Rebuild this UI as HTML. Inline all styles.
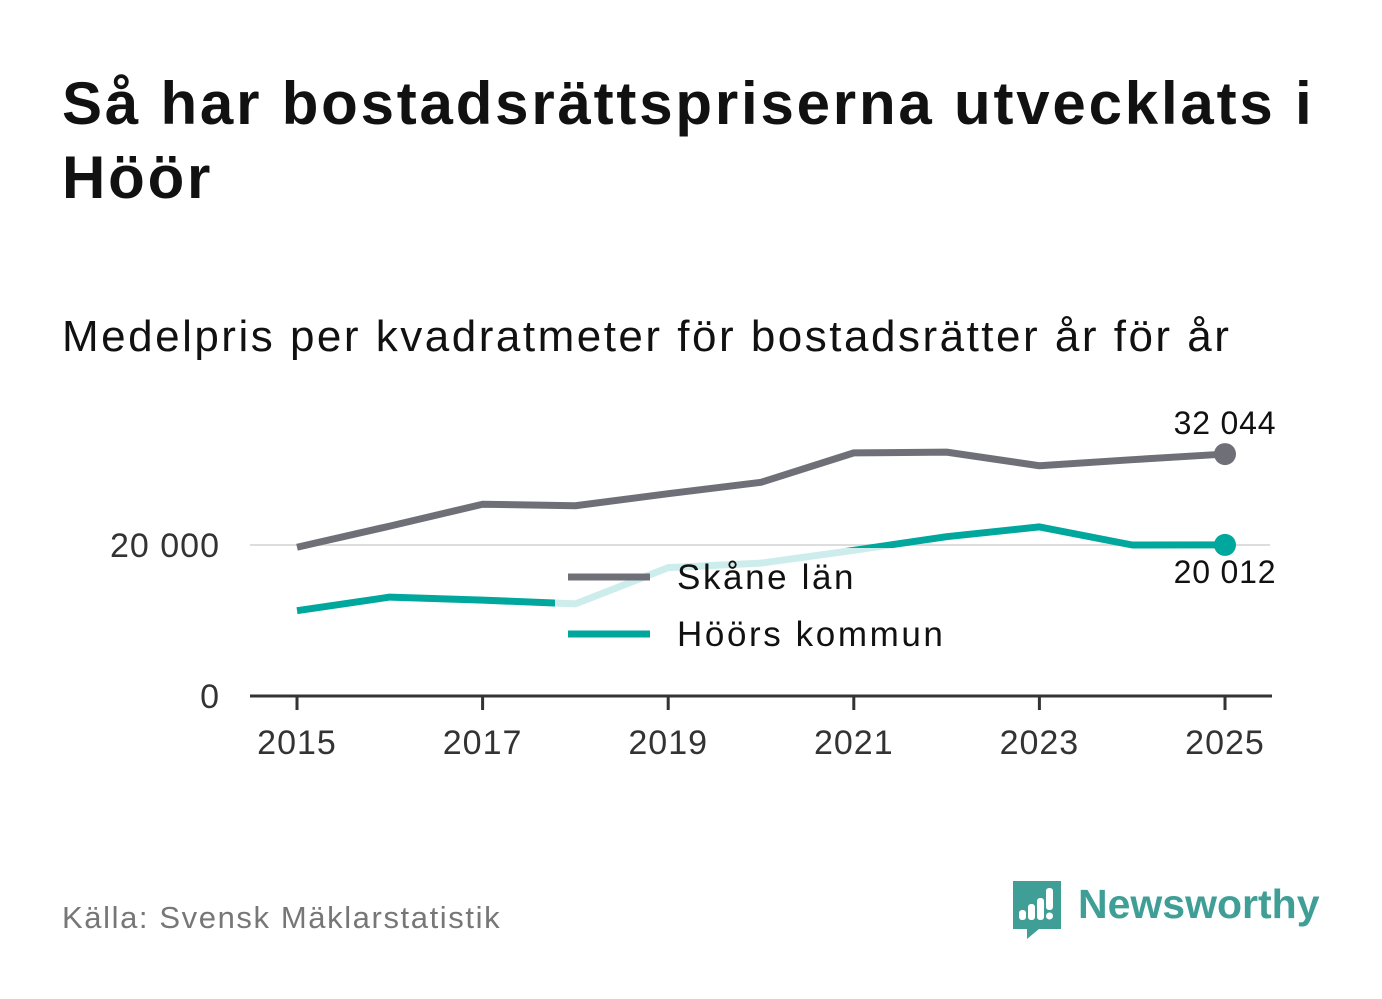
<!DOCTYPE html>
<html><head><meta charset="utf-8"><style>
body{margin:0;background:#fff;width:1382px;height:999px;overflow:hidden;font-family:"Liberation Sans","DejaVu Sans",sans-serif;}
#title{position:absolute;left:62px;top:67px;font-size:60px;letter-spacing:2.8px;font-weight:bold;color:#111;line-height:74px;width:1290px;margin:0}
#sub{position:absolute;left:62px;top:312px;font-size:44px;letter-spacing:2.5px;color:#111}
#src{position:absolute;left:62px;top:900px;font-size:31px;letter-spacing:1.6px;color:#777}
</style></head><body>
<h1 id="title">Så har bostadsrättspriserna utvecklats i Höör</h1>
<div id="sub">Medelpris per kvadratmeter för bostadsrätter år för år</div>
<div id="src">Källa: Svensk Mäklarstatistik</div>
<svg id="chart" width="1382" height="999" style="position:absolute;left:0;top:0"></svg>
<script>
const years=[2015,2016,2017,2018,2019,2020,2021,2022,2023,2024,2025];
const skane=[19700,22500,25400,25200,26800,28300,32200,32300,30500,31300,32044];
const hoor=[11300,13100,12700,12200,17000,17600,19300,21100,22400,20000,20012];
const xTicks=[2015,2017,2019,2021,2023,2025];
const yTicks=[0,20000];
const yTickLabels=["0","20 000"];
const NS="http://www.w3.org/2000/svg";
const svg=document.getElementById('chart');
const x=v=>297+(v-2015)*92.8;
const y=v=>696-v*151/20000;
function el(t,a,p){const e=document.createElementNS(NS,t);for(const k in a)e.setAttribute(k,a[k]);(p||svg).appendChild(e);return e;}
yTicks.forEach((t,i)=>{
 if(t>0){const g=el('line',{x1:250,x2:1270,y1:y(t),y2:y(t),stroke:'#ddd','stroke-width':2});
 
 }
 const tx=el('text',{x:220,y:y(t)+12,'text-anchor':'end','font-size':34,'letter-spacing':1,fill:'#333'});tx.textContent=yTickLabels[i];
 
 
});
const ax=el('line',{x1:250,x2:1272,y1:696,y2:696,stroke:'#333','stroke-width':3});


xTicks.forEach(t=>{
 el('line',{x1:x(t),x2:x(t),y1:696,y2:710,stroke:'#333','stroke-width':3});
 const tx=el('text',{x:x(t),y:754,'text-anchor':'middle','font-size':34,'letter-spacing':1,fill:'#333'});tx.textContent=t;
 
 
});
function line(vals,col,name){
 const p=el('polyline',{points:vals.map((v,i)=>x(years[i])+','+y(v)).join(' '),fill:'none',stroke:col,'stroke-width':7,'stroke-linejoin':'round'});
 
 
 const c=el('circle',{cx:x(years[years.length-1]),cy:y(vals[vals.length-1]),r:11,fill:col});
 
 
}
line(hoor,'#00a79d','hoor-line');
line(skane,'#6f6f78','skane-line');
const lb=el('rect',{x:555,y:548,width:410,height:112,fill:'#fff','fill-opacity':0.8});


[['Skåne län','#6f6f78',577],['Höörs kommun','#00a79d',634]].forEach(([n,c,yy])=>{
 el('line',{x1:568,x2:650,y1:yy,y2:yy,stroke:c,'stroke-width':7});
 const t=el('text',{x:677,y:yy+12,'font-size':35,'letter-spacing':2.6,fill:'#111'});t.textContent=n;
 
 
});
const l1=el('text',{x:1225,y:y(skane[10])-20,'text-anchor':'middle','font-size':32,'letter-spacing':0.8,fill:'#111'});l1.textContent='32 044';


const l2=el('text',{x:1225,y:y(hoor[10])+38,'text-anchor':'middle','font-size':32,'letter-spacing':0.8,fill:'#111'});l2.textContent='20 012';


const lg=el('g',{});


el('path',{d:'M1013 881 h48 v48 h-22 l-12 10 v-10 h-14 z',fill:'#3f9f96'},lg);
[[1019,910,7],[1028,904,7],[1037,898,7]].forEach(([a,b,w])=>el('rect',{x:a,y:b,width:w,height:920-b,rx:3,fill:'#fff'},lg));
el('rect',{x:1046,y:888,width:7,height:22,rx:3,fill:'#fff'},lg);
el('circle',{cx:1049.5,cy:916,r:3.5,fill:'#fff'},lg);
const lt=el('text',{x:1078,y:918,'font-size':41,'font-weight':'bold',fill:'#3f9f96'},lg);lt.textContent='Newsworthy';
</script>
</body></html>
